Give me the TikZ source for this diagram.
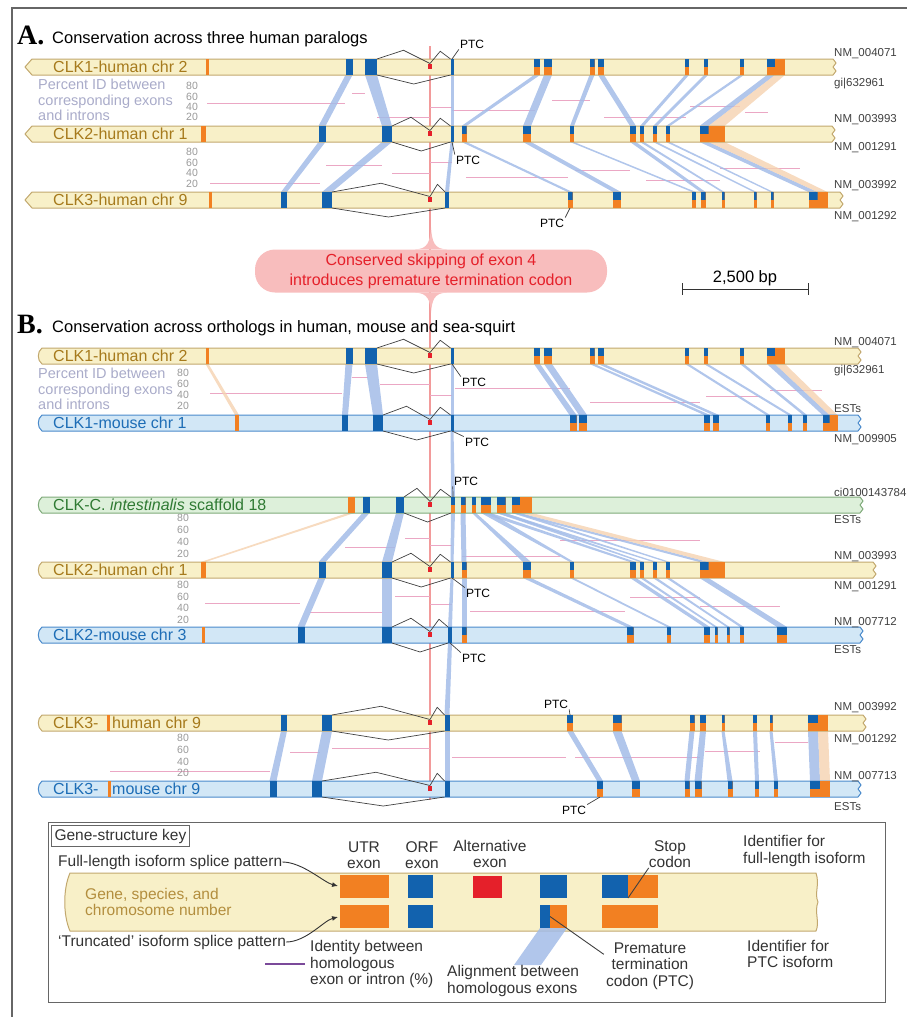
\documentclass[tikz,border=0pt]{standalone}
\usepackage{fontspec}
\setmainfont{Liberation Sans}
\newfontfamily\headserif{Liberation Serif}
\usetikzlibrary{positioning, calc, arrows.meta}

\definecolor{baryellow}{HTML}{F8F0C8}
\definecolor{barbrown}{HTML}{C2A86E}
\definecolor{barlblue}{HTML}{D2E7F6}
\definecolor{barblue}{HTML}{4A8ACB}
\definecolor{barlgreen}{HTML}{DDF0DA}
\definecolor{bargreen}{HTML}{7FAA7A}
\definecolor{humantext}{HTML}{A67A1C}
\definecolor{mousetext}{HTML}{1D6DB6}
\definecolor{squirttext}{HTML}{2F7A33}
\definecolor{exblue}{HTML}{1262AE}
\definecolor{exorange}{HTML}{F28022}
\definecolor{exred}{HTML}{E5202A}
\definecolor{bandblue}{HTML}{A3BCE8}
\definecolor{bandpeach}{HTML}{F5D2B0}
\definecolor{pctpink}{HTML}{EBA7C4}
\definecolor{skipred}{HTML}{F29A9A}
\definecolor{calloutpink}{HTML}{F8BDBD}
\definecolor{pcttext}{HTML}{A9ABC9}
\definecolor{framegray}{HTML}{666666}
\definecolor{keypurple}{HTML}{7B4A9A}

\pgfdeclarelayer{back}
\pgfdeclarelayer{front}
\pgfsetlayers{back,main,front}

\tikzset{
  humanbar/.style={draw=barbrown,fill=baryellow,line width=1pt,line join=round},
  mousebar/.style={draw=barblue,fill=barlblue,line width=1pt,line join=round},
  squirtbar/.style={draw=bargreen,fill=barlgreen,line width=1pt,line join=round},
  genelabel/.style={anchor=west,inner sep=0pt,font=\fontsize{16}{16}\selectfont},
  acc/.style={anchor=west,inner sep=0pt,text=black!75,font=\fontsize{11.5}{12}\selectfont},
  exon/.style={rectangle,inner sep=0pt,outer sep=0pt,minimum height=16},
  orfexon/.style={exon,fill=exblue},
  utrexon/.style={exon,fill=exorange},
  ptcexon/.style={exon,fill=exorange,path picture={\fill[exblue] (path picture bounding box.north west) rectangle (path picture bounding box.east);}},
  altexon/.style={rectangle,inner sep=0pt,outer sep=0pt,minimum width=4,minimum height=5,fill=exred},
  alignband/.style={fill=bandblue,fill opacity=.85},
  utrband/.style={fill=bandpeach,fill opacity=.8},
  pctid/.style={draw=pctpink,line width=.9pt},
  pctnum/.style={inner sep=0pt,text=black!40,font=\fontsize{10.5}{10.5}\selectfont},
  pcttxt/.style={anchor=west,align=left,inner sep=0pt,text=pcttext,font=\fontsize{14.5}{15.5}\selectfont},
  splice/.style={draw=black!75,line width=.7pt,line join=round},
  skipline/.style={draw=skipred,line width=1.5pt},
  ptclabel/.style={inner sep=1pt,font=\fontsize{12}{12}\selectfont},
  heading/.style={anchor=base west,inner sep=0pt,font=\fontsize{16.5}{16.5}\selectfont},
  panel/.style={anchor=base west,inner sep=0pt,font=\headserif\bfseries\fontsize{28}{28}\selectfont},
  keytxt/.style={inner sep=0pt,align=center,text=black!80,font=\fontsize{15.5}{16.5}\selectfont},
  keyarrow/.style={draw=black!80,line width=.9pt,-{Latex[length=6pt,width=5pt]},shorten >=2pt},
  scalebar/.style={draw=black!80,line width=1pt},
}

\newcommand{\pointbar}[4]{%
  \path[#1] (#3+7,#2-8) -- (#4,#2-8) -- (#4+3,#2-4) -- (#4,#2) -- (#4+3,#2+4)
    -- (#4,#2+8) -- (#3+7,#2+8) -- (#3,#2) -- cycle;}
\newcommand{\roundbar}[4]{%
  \path[#1] (#3+4,#2-8) -- (#4,#2-8) -- (#4+3,#2-4) -- (#4,#2) -- (#4+3,#2+4)
    -- (#4,#2+8) -- (#3+4,#2+8) .. controls (#3-1,#2+4) and (#3-1,#2-4) .. (#3+4,#2-8) -- cycle;}
\newcommand{\exonrow}[3]{%
  \foreach \xx/\ww/\typ [count=\i] in {#3}
    {\node[\typ,minimum width=\ww] (#1-\i) at (\xx,#2) {};}
  \node[altexon] (#1-alt) at (430,#2-1) {};}
\newcommand{\band}[2]{\fill[alignband] (#1.south west) -- (#1.south east) -- (#2.north east) -- (#2.north west) -- cycle;}
\newcommand{\utrlink}[2]{\fill[utrband] (#1.south west) -- (#1.south east) -- (#2.north east) -- (#2.north west) -- cycle;}
\newcommand{\splicepat}[1]{%
  \draw[splice] (#1-3.north east) -- ($(#1-3.north east)!.5!(#1-alt.north)+(0,-11)$)
    -- (#1-alt.north) -- ($(#1-alt.north)!.5!(#1-4.north west)+(0,-10)$) -- (#1-4.north west);
  \draw[splice] (#1-3.south east) -- ($(#1-3.south east)!.5!(#1-4.south west)+(0,9)$) -- (#1-4.south west);}
\newcommand{\pctscale}[4]{%
  \foreach \v [count=\k from 0] in {80,60,40,20}
    {\node[pctnum] (#1-\v) at (#2,#3+\k*#4) {\v};}}

\begin{document}
\begin{tikzpicture}[x=1pt,y=-1pt]
\useasboundingbox (0,0) rectangle (907,1017);
\draw[framegray,line width=2pt] (12,1017) -- (12,8) -- (907,8);

% A. three human paralogs
\node[panel] (hA) at (17,44) {A.};
\node[heading] (tA) at (52,43) {Conservation across three human paralogs};

\pointbar{humanbar}{67}{25}{833}
\pointbar{humanbar}{134}{25}{832}
\pointbar{humanbar}{200}{25}{840}
\exonrow{A1}{67}{207/3/utrexon, 349/7/orfexon, 371/12/orfexon, 452/3/orfexon, 537/6/ptcexon, 548/8/ptcexon, 592/5/ptcexon, 601/6/ptcexon, 687/4/ptcexon, 706/4/ptcexon, 742/4/ptcexon, 771/8/ptcexon, 780/10/utrexon}
\exonrow{A2}{134}{203/5/utrexon, 322/7/orfexon, 387/10/orfexon, 452/3/orfexon, 464/5/ptcexon, 527/8/ptcexon, 572/4/ptcexon, 633/6/ptcexon, 642/4/ptcexon, 655/4/ptcexon, 668/4/ptcexon, 704/9/ptcexon, 716.5/16/utrexon}
\exonrow{A3}{200}{210/3/utrexon, 284/6/orfexon, 327/10/orfexon, 447/4/orfexon, 570/5/ptcexon, 617/8/ptcexon, 694/4/ptcexon, 703/5/ptcexon, 723/3/ptcexon, 755/3/ptcexon, 772/3/ptcexon, 813/9/ptcexon, 822.5/10/utrexon}

\node[genelabel,text=humantext] (lA1) at (53,67) {CLK1-human chr 2};
\node[genelabel,text=humantext] (lA2) at (53,134) {CLK2-human chr 1};
\node[genelabel,text=humantext] (lA3) at (53,200) {CLK3-human chr 9};
\node[pcttxt] (pidA) at (38,100) {Percent ID between\\corresponding exons\\and introns};
\pctscale{sA1}{192}{86}{10.4}
\pctscale{sA2}{192}{152}{10.6}

\node[acc] (nA1a) at (834,54) {NM\_004071};
\node[acc] (nA1b) at (834,84) {gi|632961};
\node[acc] (nA2a) at (834,120) {NM\_003993};
\node[acc] (nA2b) at (834,148) {NM\_001291};
\node[acc] (nA3a) at (834,186) {NM\_003992};
\node[acc] (nA3b) at (834,217) {NM\_001292};

\splicepat{A1}
\splicepat{A2}
\splicepat{A3}
\node[ptclabel] (pA1) at (472,44) {PTC};
\draw[splice] (A1-4.north) -- (pA1.south west);
\node[ptclabel] (pA2) at (468,160) {PTC};
\draw[splice] (A2-4.south) -- (pA2.north west);
\node[ptclabel] (pA3) at (552,223) {PTC};
\draw[splice] (A3-5.south) -- (pA3.north east);

% conserved skipping
\node[fill=calloutpink,rounded corners=20pt,minimum width=352,minimum height=43,inner sep=0pt,align=center,text=exred,font=\fontsize{16}{20}\selectfont] (skipnote) at (431,271) {Conserved skipping of exon 4\\introduces premature termination codon};
\fill[calloutpink] ([xshift=-16pt]skipnote.north) .. controls ([xshift=-3pt]skipnote.north) and ([xshift=-1pt,yshift=8pt]skipnote.north) .. ([yshift=22pt]skipnote.north)
  .. controls ([xshift=1pt,yshift=8pt]skipnote.north) and ([xshift=3pt]skipnote.north) .. ([xshift=16pt]skipnote.north) -- cycle;
\fill[calloutpink] ([xshift=-16pt]skipnote.south) .. controls ([xshift=-3pt]skipnote.south) and ([xshift=-1pt,yshift=-8pt]skipnote.south) .. ([yshift=-20pt]skipnote.south)
  .. controls ([xshift=1pt,yshift=-8pt]skipnote.south) and ([xshift=3pt]skipnote.south) .. ([xshift=16pt]skipnote.south) -- cycle;

\coordinate (sbL) at (682,289);
\coordinate (sbR) at (808,289);
\draw[scalebar] (sbL) -- (sbR);
\draw[scalebar] ([yshift=6pt]sbL) -- ([yshift=-6pt]sbL);
\draw[scalebar] ([yshift=6pt]sbR) -- ([yshift=-6pt]sbR);
\node[heading,anchor=base] (sblab) at (745,282) {2,500 bp};

% B. orthologs
\node[panel] (hB) at (17,333) {B.};
\node[heading] (tB) at (52,332) {Conservation across orthologs in human, mouse and sea-squirt};

\roundbar{humanbar}{356}{38}{858}
\roundbar{mousebar}{423}{38}{858}
\roundbar{squirtbar}{505}{38}{860}
\roundbar{humanbar}{570}{38}{873}
\roundbar{mousebar}{635}{38}{860}
\roundbar{humanbar}{723}{38}{863}
\roundbar{mousebar}{789}{38}{858}
\exonrow{B1}{356}{207/3/utrexon, 349/7/orfexon, 371/12/orfexon, 452/3/orfexon, 537/6/ptcexon, 548/8/ptcexon, 592/5/ptcexon, 601/6/ptcexon, 687/4/ptcexon, 706/4/ptcexon, 742/4/ptcexon, 771/8/ptcexon, 780/10/utrexon}
\exonrow{B2}{423}{237/4/utrexon, 345/6/orfexon, 378/10/orfexon, 452/3/orfexon, 573/7/ptcexon, 583/8/ptcexon, 707/6/ptcexon, 716/6/ptcexon, 768/4/ptcexon, 790/4/ptcexon, 805/4/ptcexon, 826/7/ptcexon, 833.5/8/utrexon}
\exonrow{B3}{505}{351/7/utrexon, 366/7/orfexon, 400/8/orfexon, 453/4/ptcexon, 463/5/ptcexon, 474/4/ptcexon, 486/10/ptcexon, 501/9/ptcexon, 516/8/ptcexon, 526/12/utrexon}
\exonrow{B4}{570}{203/5/utrexon, 322/7/orfexon, 387/10/orfexon, 452/3/orfexon, 464/5/ptcexon, 527/8/ptcexon, 572/4/ptcexon, 633/6/ptcexon, 642/4/ptcexon, 655/4/ptcexon, 668/4/ptcexon, 704/9/ptcexon, 716.5/16/utrexon}
\exonrow{B5}{635}{203/3/utrexon, 301/7/orfexon, 387/10/orfexon, 450/4/orfexon, 464/5/ptcexon, 630/7/ptcexon, 669/4/ptcexon, 707/6/ptcexon, 716/3/ptcexon, 728/3/ptcexon, 742/4/ptcexon, 782/10/ptcexon}
\exonrow{B6}{723}{108/3/utrexon, 284/6/orfexon, 327/10/orfexon, 447/5/orfexon, 570/6/ptcexon, 617/9/ptcexon, 692/5/ptcexon, 703/6/ptcexon, 723/3/ptcexon, 755/4/ptcexon, 771/3/ptcexon, 813/10/ptcexon, 823/10/utrexon}
\exonrow{B7}{789}{109/3/utrexon, 273/7/orfexon, 317/10/orfexon, 447/5/orfexon, 600/6/ptcexon, 636/8/ptcexon, 687/5/ptcexon, 698/7/ptcexon, 730/5/ptcexon, 757/4/ptcexon, 776/4/ptcexon, 815/10/ptcexon, 825/10/utrexon}

\node[genelabel,text=humantext] (lB1) at (53,356) {CLK1-human chr 2};
\node[genelabel,text=mousetext] (lB2) at (53,423) {CLK1-mouse chr 1};
\node[genelabel,text=squirttext] (lB3) at (53,505) {CLK-C. \textit{intestinalis} scaffold 18};
\node[genelabel,text=humantext] (lB4) at (53,570) {CLK2-human chr 1};
\node[genelabel,text=mousetext] (lB5) at (53,635) {CLK2-mouse chr 3};
\node[genelabel,text=humantext] (lB6) at (53,723) {CLK3-};
\node[genelabel,text=humantext] (lB6b) at (112,723) {human chr 9};
\node[genelabel,text=mousetext] (lB7) at (53,789) {CLK3-};
\node[genelabel,text=mousetext] (lB7b) at (112,789) {mouse chr 9};
\node[pcttxt] (pidB) at (38,389) {Percent ID between\\corresponding exons\\and introns};
\pctscale{sB1}{183}{373}{11}
\pctscale{sB3}{183}{518}{12}
\pctscale{sB4}{183}{585}{11.5}
\pctscale{sB6}{183}{738}{11.7}

\node[acc] (nB1a) at (834,343) {NM\_004071};
\node[acc] (nB1b) at (834,371) {gi|632961};
\node[acc] (nB2a) at (834,409) {ESTs};
\node[acc] (nB2b) at (834,440) {NM\_009905};
\node[acc] (nB3a) at (834,492) {ci0100143784};
\node[acc] (nB3b) at (834,520) {ESTs};
\node[acc] (nB4a) at (834,557) {NM\_003993};
\node[acc] (nB4b) at (834,587) {NM\_001291};
\node[acc] (nB5a) at (834,623) {NM\_007712};
\node[acc] (nB5b) at (834,650) {ESTs};
\node[acc] (nB6a) at (834,708) {NM\_003992};
\node[acc] (nB6b) at (834,740) {NM\_001292};
\node[acc] (nB7a) at (834,777) {NM\_007713};
\node[acc] (nB7b) at (834,807) {ESTs};

\foreach \r in {B1,B2,B3,B4,B5,B6,B7} {\splicepat{\r}}
\node[ptclabel] (pB1) at (474,382) {PTC};
\draw[splice] (B1-4.south) -- (pB1.north west);
\node[ptclabel] (pB2) at (477,442) {PTC};
\draw[splice] (B2-4.south) -- (pB2.north west);
\node[ptclabel] (pB3) at (466,481) {PTC};
\draw[splice] (B3-4.north) -- (pB3.south west);
\node[ptclabel] (pB4) at (478,593) {PTC};
\draw[splice] (B4-4.south) -- (pB4.north west);
\node[ptclabel] (pB5) at (474,658) {PTC};
\draw[splice] (B5-4.south) -- (pB5.north west);
\node[ptclabel] (pB6) at (556,704) {PTC};
\draw[splice] (B6-5.north) -- (pB6.south east);
\node[ptclabel] (pB7) at (574,810) {PTC};
\draw[splice] (B7-5.south) -- (pB7.north east);

\begin{pgfonlayer}{back}
  \draw[skipline] ($(A1-alt)+(0,-20)$) -- ($(B7-alt)+(0,12)$);
  \foreach \xa/\xb/\yy in {207/345/103, 352/365/93, 377/430/117, 430/452/107, 452/535/110, 552/590/100, 604/686/117, 690/740/106, 745/768/112,
      210/320/183, 326/382/165, 392/430/173, 430/452/162, 466/568/177, 575/630/170, 646/720/180, 720/800/168,
      210/342/393, 352/368/377, 380/430/384, 430/452/395, 455/570/388, 590/700/402, 706/760/396, 770/822/390,
      345/395/547, 405/430/538, 430/452/545, 462/560/556, 560/700/540,
      205/300/603, 310/382/612, 395/430/596, 430/452/604, 470/625/611, 630/700/597, 700/780/606,
      110/270/771, 290/320/752, 332/430/748, 452/566/757, 575/700/757, 705/760/751, 775/808/742}
    {\draw[pctid] (\xa,\yy) -- (\xb,\yy);}
  \foreach \i in {2,...,12} {\band{A1-\i}{A2-\i} \band{A2-\i}{A3-\i}}
  \utrlink{A1-13}{A2-13}
  \utrlink{A2-13}{A3-13}
  \foreach \i in {2,...,12} {\band{B1-\i}{B2-\i}}
  \utrlink{B1-1}{B2-1}
  \utrlink{B1-13}{B2-13}
  \band{B2-4}{B3-4}
  \utrlink{B3-1}{B4-1}
  \foreach \p/\q in {2/2,3/3,4/4,5/5,6/6,7/7,7/8,8/9,8/10,9/11,9/12} {\band{B3-\p}{B4-\q}}
  \utrlink{B3-10}{B4-13}
  \foreach \i in {2,...,12} {\band{B4-\i}{B5-\i}}
  \band{B5-4}{B6-4}
  \foreach \i in {2,...,12} {\band{B6-\i}{B7-\i}}
  \utrlink{B6-13}{B7-13}
\end{pgfonlayer}

% gene-structure key
\draw[draw=black!60,line width=1pt] (48,822) rectangle (885,1002);
\node[keytxt,draw=black!60,line width=1pt,inner sep=3pt,anchor=west] (keyhead) at (51,836) {Gene-structure key};
\path[humanbar] (70,873) -- (816,873) .. controls (820,885) and (814,893) .. (818,902) .. controls (814,912) and (820,922) .. (816,931)
  -- (70,931) .. controls (63,915) and (63,889) .. (70,873) -- cycle;
\node[keytxt,align=left,anchor=west,text=humantext!85] (kgene) at (85,902) {Gene, species, and\\chromosome number};
\node[utrexon,minimum width=49,minimum height=23] (kutrA) at (364.5,886.5) {};
\node[utrexon,minimum width=49,minimum height=23] (kutrB) at (364.5,916.5) {};
\node[orfexon,minimum width=25,minimum height=23] (korfA) at (420.5,886.5) {};
\node[orfexon,minimum width=25,minimum height=23] (korfB) at (420.5,916.5) {};
\node[orfexon,fill=exred,minimum width=29,minimum height=22] (kalt) at (487.5,887) {};
\node[orfexon,minimum width=27,minimum height=23] (kptcA) at (553.5,886.5) {};
\node[orfexon,minimum width=10,minimum height=23] (kptcB) at (545,916.5) {};
\node[utrexon,minimum width=17,minimum height=23] (kptcC) at (558.5,916.5) {};
\node[orfexon,minimum width=26,minimum height=23] (kstopA) at (615,886.5) {};
\node[utrexon,minimum width=30,minimum height=23] (kstopB) at (643,886.5) {};
\node[utrexon,minimum width=56,minimum height=23] (kstopC) at (630,916.5) {};
\fill[alignband] (kptcB.south west) -- (kptcC.south east) -- ++(-26,37) -- ++(-27,0) -- cycle;

\node[keytxt,anchor=west] (kfull) at (58,862) {Full-length isoform splice pattern};
\node[keytxt,anchor=west] (ktrunc) at (58,942) {`Truncated' isoform splice pattern};
\draw[keyarrow] (kfull.east) .. controls +(20,0) and +(-16,-4) .. (kutrA.west);
\draw[keyarrow] (ktrunc.east) .. controls +(20,0) and +(-16,4) .. (kutrB.west);
\node[keytxt] (kutrlab) at (364,855) {UTR\\exon};
\node[keytxt] (korflab) at (422,855) {ORF\\exon};
\node[keytxt] (kaltlab) at (490,854) {Alternative\\exon};
\node[keytxt] (kstoplab) at (670,854) {Stop\\codon};
\draw[splice,line width=.9pt] (kstoplab.south west) -- (kstopA.south east);
\node[keytxt,align=left,anchor=west] (kidfull) at (743,851) {Identifier for\\full-length isoform};
\node[keytxt,align=left,anchor=west] (kidptc) at (747,954) {Identifier for\\PTC isoform};
\node[keytxt] (kptclab) at (650,966) {Premature\\termination\\codon (PTC)};
\draw[splice,line width=.9pt] (kptcB.east) -- ([xshift=-2pt,yshift=-12pt]kptclab.north west);
\node[keytxt,align=left,anchor=west] (kalign) at (447,981) {Alignment between\\homologous exons};
\node[keytxt,align=left,anchor=west] (kident) at (310,964) {Identity between\\homologous\\exon or intron (\%)};
\draw[keypurple,line width=2pt] ([xshift=-45pt]kident.west) -- ([xshift=-5pt]kident.west);
\end{tikzpicture}
\end{document}
